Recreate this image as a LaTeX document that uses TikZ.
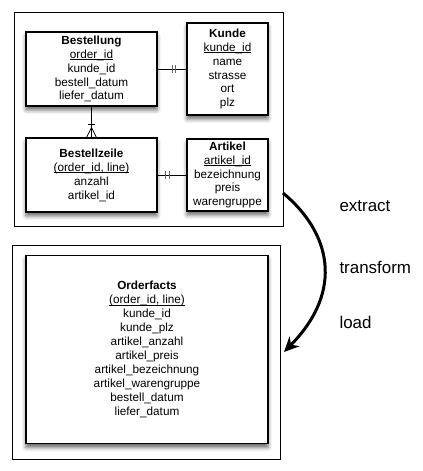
\documentclass[tikz,border=0pt]{standalone}
\usepackage{fontspec}
\setmainfont{Liberation Sans}
\usetikzlibrary{arrows.meta,shadows.blur,decorations.markings}
\newcommand{\pkey}[1]{\underline{\smash{#1}}}

\begin{document}
\begin{tikzpicture}[x=1bp,y=-1bp,
  frame/.style={draw,line width=0.9bp},
  entity/.style={draw,line width=1.1bp,fill=white,align=center,inner sep=0pt,
    font=\fontsize{11.8}{14}\selectfont,
    blur shadow={shadow xshift=0pt,shadow yshift=-4pt,shadow blur radius=4pt,shadow opacity=60}},
  relline/.style={line width=0.8bp},
  barsat/.style 2 args={postaction={decorate,decoration={markings,
    mark=at position #1 with {\draw[line width=1bp,black!60] (0,-4bp) -- (0,4bp);},
    mark=at position #2 with {\draw[line width=1bp,black!60] (0,-4bp) -- (0,4bp);}}}},
  crowfoot/.style={postaction={decorate,decoration={markings,
    mark=at position 18bp with {\draw[line width=0.8bp] (0,-3.5bp) -- (0,3.5bp);},
    mark=at position 1 with {\draw[line width=0.8bp] (0,-5bp) -- (-10bp,0) -- (0,5bp) (-10bp,0) -- (0,0);}}}},
  etl/.style={font=\fontsize{17}{20}\selectfont,anchor=base west},
  flow/.style={line width=3bp,-{Stealth[length=15bp,width=14bp]}}]
  \useasboundingbox (0,0) rectangle (422,471);

  \draw[frame] (14,12) rectangle (283,226);
  \draw[frame] (12,245) rectangle (280,459);

  \node[entity,minimum width=131bp,minimum height=74bp] (bestellung) at (91.5,69)
    {\textbf{Bestellung}\\\pkey{order\_id}\\kunde\_id\\bestell\_datum\\liefer\_datum};
  \node[entity,minimum width=81bp,minimum height=92bp] (kunde) at (227.5,69)
    {\textbf{Kunde}\\\pkey{kunde\_id}\\name\\strasse\\ort\\plz};
  \node[entity,minimum width=131bp,minimum height=74bp] (bestellzeile) at (91.5,175)
    {\textbf{Bestellzeile}\\\pkey{(order\_id, line)}\\anzahl\\artikel\_id};
  \node[entity,minimum width=81bp,minimum height=72bp] (artikel) at (227.5,175)
    {\textbf{Artikel}\\\pkey{artikel\_id}\\bezeichnung\\preis\\warengruppe};
  \node[entity,minimum width=242bp,minimum height=188bp] (orderfacts) at (147,349.5)
    {\textbf{Orderfacts}\\\pkey{(order\_id, line)}\\kunde\_id\\kunde\_plz\\artikel\_anzahl\\artikel\_preis\\artikel\_bezeichnung\\artikel\_warengruppe\\bestell\_datum\\liefer\_datum};

  \draw[relline,barsat={15bp}{18bp}] (bestellung) -- (kunde);
  \draw[relline,barsat={8bp}{12bp}] (bestellzeile) -- (artikel);
  \draw[relline,crowfoot] (bestellung) -- (bestellzeile);

  \coordinate (extractstart) at (283,193);
  \coordinate (loadend) at (284,352);
  \draw[flow] (extractstart) .. controls (330,232) and (345,290) .. (loadend);

  \node[etl] (extract) at (336,212) {extract};
  \node[etl] (transform) at (336,273) {transform};
  \node[etl] (load) at (336,328) {load};
\end{tikzpicture}
\end{document}
